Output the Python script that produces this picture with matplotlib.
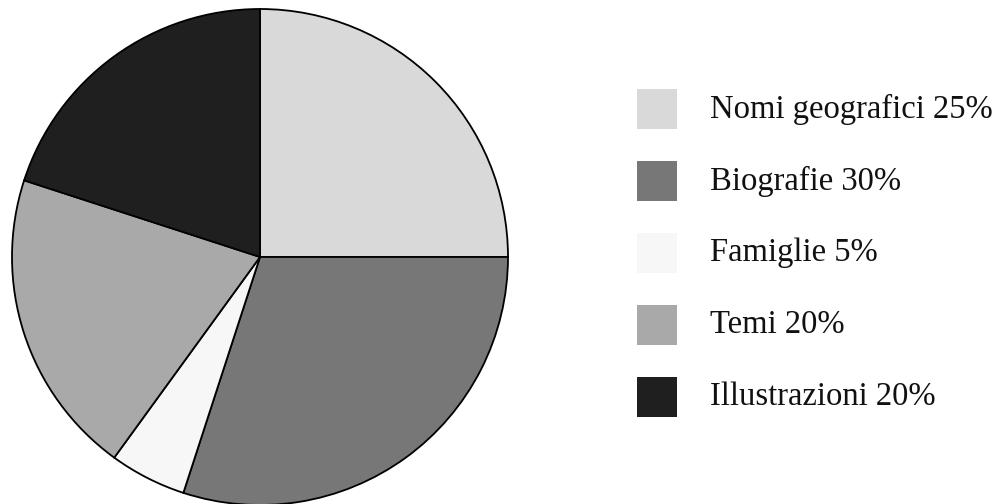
import matplotlib.pyplot as plt
from matplotlib.patches import Rectangle

labels = ["Nomi geografici", "Biografie", "Famiglie", "Temi", "Illustrazioni"]
shares = [25, 30, 5, 20, 20]
colors = ["#d9d9d9", "#777777", "#f7f7f7", "#a9a9a9", "#1f1f1f"]

W, H = 1003, 504
fig = plt.figure(figsize=(W / 100, H / 100), dpi=100)

# pie area in pixels: centre (260, 257), radius 248
cx, cy, r = 260, 257, 248
ax = fig.add_axes([(cx - r) / W, (H - cy - r) / H, 2 * r / W, 2 * r / H])
ax.pie(shares, colors=colors, startangle=90, counterclock=False,
       wedgeprops=dict(edgecolor="black", linewidth=1.3))
ax.set_xlim(-1, 1)
ax.set_ylim(-1, 1)
ax.set_aspect("equal")
ax.axis("off")

# legend drawn by hand
box = 40
x0 = 637
y_first = 109
step = 72
for i, (lab, val, col) in enumerate(zip(labels, shares, colors)):
    yc = y_first + i * step
    fig.patches.append(Rectangle((x0 / W, (H - yc - box / 2) / H), box / W, box / H,
                                 transform=fig.transFigure, facecolor=col,
                                 edgecolor="none"))
    fig.text(710 / W, (H - yc) / H, f"{lab} {val}%", family="Liberation Serif",
             fontsize=23.5, va="center", ha="left", color="#111111")

fig.savefig("out.png", dpi=100)
